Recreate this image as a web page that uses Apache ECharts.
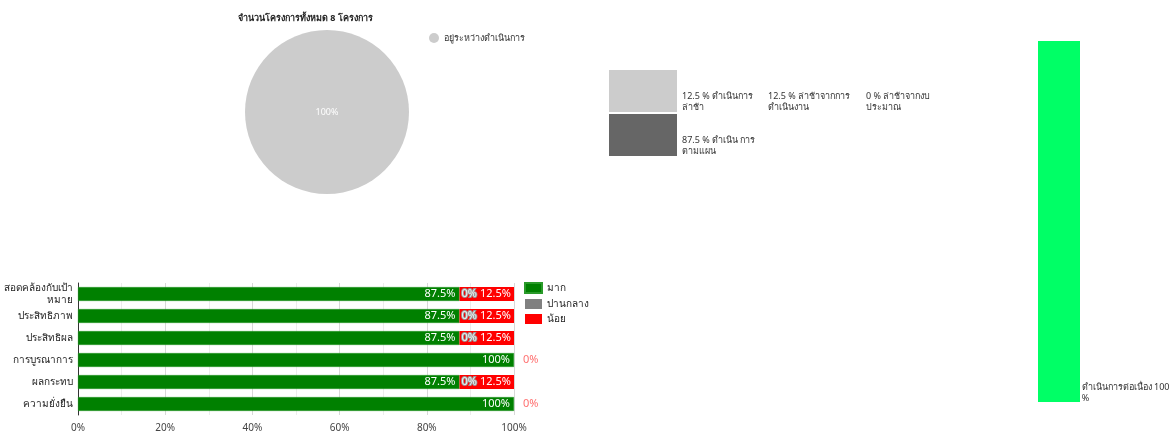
<!DOCTYPE html>
<html>
<head>
<meta charset="utf-8">
<script src="https://cdn.jsdelivr.net/npm/echarts@6/dist/echarts.min.js"></script>
<style>html,body{margin:0;padding:0;background:#fff}#c{width:1173px;height:436px}</style>
</head>
<body>
<div id="c"></div>
<script>
// ---- data ----
var pieTitle = 'จำนวนโครงการทั้งหมด 8 โครงการ';
var pieNames = ['อยู่ระหว่างดำเนินการ'];
var pieValues = [100];

var statusNames = ['12.5 % ดำเนินการ\nล่าช้า', '12.5 % ล่าช้าจากการ\nดำเนินงาน', '0 % ล่าช้าจากงบ\nประมาณ', '87.5 % ดำเนิน การ\nตามแผน'];
var statusValues = [12.5, 12.5, 0, 87.5];

var categories = ['สอดคล้องกับเป้า\nหมาย', 'ประสิทธิภาพ', 'ประสิทธิผล', 'การบูรณาการ', 'ผลกระทบ', 'ความยั่งยืน'];
var levelNames = ['มาก', 'ปานกลาง', 'น้อย'];
var highValues = [87.5, 87.5, 87.5, 100, 87.5, 100];
var midValues = [0, 0, 0, 0, 0, 0];
var lowValues = [12.5, 12.5, 12.5, 0, 12.5, 0];

var contName = 'ดำเนินการต่อเนื่อง';
var contValues = [100];

// ---- chart ----
var FONT = 'Noto Sans, sans-serif';
var chart = echarts.init(document.getElementById('c'));

var statusColors = ['#cccccc', 'transparent', 'transparent', '#666666'];

function midData() {
  return midValues.map(function (v, i) {
    return { value: v, label: { show: lowValues[i] > 0 } };
  });
}
function lowData() {
  return lowValues.map(function (v) {
    if (v === 0) {
      return { value: v, label: { position: 'right', distance: 9, color: '#ff7070' } };
    }
    return v;
  });
}

var legendText = { fontSize: 9, color: '#333', fontFamily: FONT, lineHeight: 11 };
function lowerText(name) { return '\n\n' + name; }

chart.setOption({
  animation: false,
  textStyle: { fontFamily: FONT },
  title: {
    text: pieTitle, left: 233, top: 9,
    textStyle: { fontSize: 9, fontWeight: 'bold', color: '#222', fontFamily: FONT }
  },
  legend: [
    {
      data: pieNames, left: 429, top: 33, icon: 'circle', itemWidth: 10, itemHeight: 10, itemGap: 4,
      padding: 0, textStyle: { fontSize: 9, color: '#333', fontFamily: FONT }
    },
    {
      data: [statusNames[0], statusNames[3]], orient: 'vertical', left: 609, top: 69, padding: 0,
      icon: 'rect', itemWidth: 68, itemHeight: 42, itemGap: 0, textStyle: legendText, formatter: lowerText
    },
    {
      data: [statusNames[1]], left: 763, top: 69, padding: 0, icon: 'rect', itemWidth: 0, itemHeight: 42,
      textStyle: legendText, formatter: lowerText
    },
    {
      data: [statusNames[2]], left: 861, top: 69, padding: 0, icon: 'rect', itemWidth: 0, itemHeight: 42,
      textStyle: legendText, formatter: lowerText
    },
    {
      data: levelNames, orient: 'vertical', left: 524, top: 282, padding: 0, icon: 'rect', itemWidth: 17, itemHeight: 10,
      itemGap: 5, textStyle: { fontSize: 10, color: '#222', fontFamily: FONT }
    }
  ],
  grid: [
    { left: 78, right: 659, top: 283, bottom: 21, containLabel: false },
    { left: 1038, top: 41, width: 42, height: 361 }
  ],
  xAxis: [
    {
      gridIndex: 0, type: 'value', min: 0, max: 100, interval: 20,
      axisLabel: { formatter: '{value}%', fontSize: 10, color: '#444', margin: 8 },
      axisLine: { show: false }, axisTick: { show: false },
      splitLine: { show: true, lineStyle: { color: '#d8d8d8' } },
      minorTick: { show: false, splitNumber: 2 },
      minorSplitLine: { show: true, lineStyle: { color: '#ececec' } }
    },
    { gridIndex: 1, type: 'category', data: [contName], show: false }
  ],
  yAxis: [
    {
      gridIndex: 0, type: 'category', data: categories, inverse: true,
      axisLine: { show: true, lineStyle: { color: '#333' } }, axisTick: { show: false },
      axisLabel: { fontSize: 10, color: '#222', margin: 5, lineHeight: 12 }
    },
    { gridIndex: 1, type: 'value', min: 0, max: 100, show: false }
  ],
  series: [
    {
      type: 'pie', name: 'pie', center: [327, 112], radius: 82,
      data: pieNames.map(function (n, i) { return { name: n, value: pieValues[i] }; }),
      itemStyle: { color: '#cccccc' },
      label: { position: 'center', formatter: '{d}%', color: '#fff', fontSize: 9 },
      labelLine: { show: false }, silent: true
    },
    {
      type: 'pie', name: 'status', center: [780, 300], radius: [0, 0], silent: true,
      label: { show: false }, labelLine: { show: false },
      data: statusNames.map(function (n, i) {
        return { name: n, value: statusValues[i], itemStyle: { color: statusColors[i] } };
      })
    },
    {
      type: 'bar', name: levelNames[0], stack: 's', xAxisIndex: 0, yAxisIndex: 0, data: highValues,
      barWidth: '63%', itemStyle: { color: '#008000', borderColor: '#2a9a2a', borderWidth: 0.5 },
      label: { show: true, position: 'insideRight', formatter: '{c}%', color: '#fff', fontSize: 11, distance: 4 }
    },
    {
      type: 'bar', name: levelNames[1], stack: 's', xAxisIndex: 0, yAxisIndex: 0, data: midData(),
      itemStyle: { color: '#808080' },
      label: {
        show: true, position: 'right', distance: 2, formatter: '{c}%', color: '#f2f2f2', fontSize: 11,
        textBorderColor: '#999', textBorderWidth: 2
      }
    },
    {
      type: 'bar', name: levelNames[2], stack: 's', xAxisIndex: 0, yAxisIndex: 0, data: lowData(),
      itemStyle: { color: '#ff0000' },
      label: { show: true, position: 'insideRight', formatter: '{c}%', color: '#fff', fontSize: 11, distance: 3 }
    },
    {
      type: 'bar', name: contName, xAxisIndex: 1, yAxisIndex: 1, data: contValues, barWidth: '100%',
      itemStyle: { color: '#00ff66' },
      label: {
        show: true, position: ['104%', '94.5%'], formatter: '{b} {c}\n%',
        fontSize: 9, color: '#333', lineHeight: 11, align: 'left', verticalAlign: 'top'
      }
    }
  ]
});
</script>
</body>
</html>
